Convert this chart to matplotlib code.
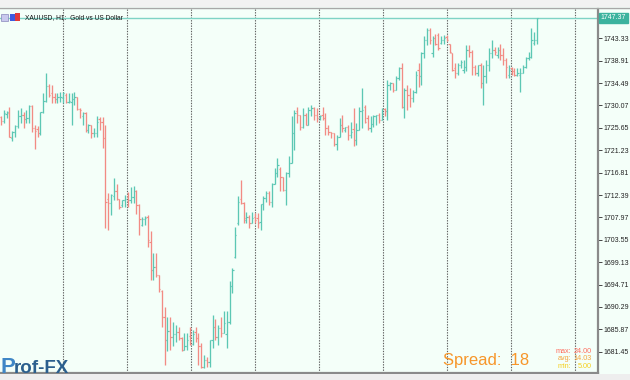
import matplotlib
matplotlib.use("Agg")
import matplotlib.pyplot as plt
from matplotlib.patches import Rectangle

# ---------------- data (XAUUSD H1 OHLC) ----------------
opens = [
 1727.7,1727.1,1728.4,1728.5,1723.6,1724.9,1726.1,1727.9,1728.2,1727.3,1727.5,1730.0,1725.6,1725.4,1724.7,1728.7,1731.0,1733.9,1732.5,1731.7,
 1731.3,1731.7,1731.5,1732.1,1730.8,1730.8,1731.3,1731.7,1729.3,1727.9,1728.5,1725.2,1726.2,1724.6,1724.7,1727.3,1726.9,1723.6,1711.7,1710.8,
 1712.1,1713.1,1711.6,1710.4,1711.4,1712.1,1711.4,1711.9,1713.2,1710.4,1706.5,1707.6,1708.0,
 1703.2,1697.6,1698.2,1696.5,1693.5,1688.4,1683.8,1685.5,1684.4,1685.0,1685.4,1684.1,1681.8,1682.5,1684.5,1683.0,1685.3,1684.2,1682.5,1678.5,
 1679.8,1679.5,1683.8,1686.4,1684.4,1686.1,1685.2,1685.0,1687.4,1694.5,1700.2,1706.8,1711.7,1710.8,1707.5,1708.0,1706.8,1708.0,1707.8,1707.0,
 1710.6,1711.8,1712.7,1711.1,1714.6,1716.8,1717.5,1716.0,1713.3,1716.7,1718.7,
 1724.6,1729.0,1728.2,1725.9,1728.2,1726.2,1729.2,1729.5,1728.2,1727.5,1728.2,1727.5,1725.6,1724.9,1724.6,1722.4,1723.9,1726.2,1725.2,1725.9,
 1724.3,1725.5,1723.3,1725.2,1728.9,1729.8,1727.5,1725.6,1726.5,1727.9,1728.2,1727.2,1729.3,1728.9,1734.1,1734.5,1733.1,1735.4,1737.4,1729.8,
 1733.1,1732.1,1731.5,1732.8,1737.0,1735.8,1740.4,1743.0,1745.0,1740.5,1743.3,1744.0,1742.5,
 1742.9,1743.5,1742.3,1740.5,1737.5,1736.4,1738.1,1737.0,1737.7,1741.0,1740.7,1737.7,1736.4,1738.1,1734.5,1735.8,1738.1,1740.4,1741.0,1740.0,
 1741.0,1740.0,1739.1,1736.1,1737.4,1736.8,1736.1,1736.0,1736.4,1737.7,1739.4,1739.7,1742.5,1743.0,
]
highs = [
 1728.0,1729.2,1729.0,1729.7,1725.1,1726.2,1729.2,1729.5,1728.7,1729.2,1730.2,1730.2,1726.2,1726.0,1728.8,1732.5,1736.4,1734.4,1734.1,1732.5,
 1732.5,1732.8,1732.8,1732.5,1732.5,1732.5,1732.8,1731.8,1729.5,1728.8,1728.7,1726.5,1726.2,1725.6,1728.0,1727.7,1727.7,1726.2,1712.7,1712.6,
 1715.7,1714.6,1711.7,1711.5,1712.4,1712.9,1714.0,1714.2,1713.4,1710.6,1708.1,1708.3,1708.5,
 1705.2,1700.9,1700.9,1696.6,1693.6,1690.3,1688.4,1688.4,1687.4,1686.7,1686.4,1684.4,1685.1,1685.1,1686.4,1685.7,1686.4,1685.1,1683.1,1680.8,
 1680.5,1683.8,1688.7,1688.0,1686.7,1688.4,1689.4,1689.4,1695.5,1697.9,1706.1,1712.1,1715.4,1711.1,1709.1,1708.4,1709.1,1708.8,1708.8,1710.7,
 1712.1,1713.1,1713.1,1714.7,1717.7,1719.6,1718.0,1716.0,1717.0,1720.0,1727.9,
 1729.2,1729.8,1728.2,1729.5,1728.5,1729.8,1730.2,1729.8,1729.5,1728.2,1729.8,1728.5,1726.2,1724.9,1724.6,1724.3,1727.5,1728.2,1725.9,1726.2,
 1726.9,1729.5,1726.6,1729.8,1733.5,1730.2,1728.2,1727.9,1728.2,1728.2,1728.5,1729.5,1729.5,1735.1,1734.8,1734.5,1735.8,1737.7,1738.4,1733.5,
 1734.1,1733.5,1733.1,1736.8,1738.4,1740.7,1743.7,1745.3,1745.3,1743.7,1744.2,1744.3,1743.7,
 1744.0,1744.0,1742.3,1740.5,1738.4,1738.4,1739.1,1739.1,1742.0,1742.0,1741.0,1738.1,1738.1,1738.4,1738.1,1739.1,1741.4,1743.0,1741.7,1741.7,
 1742.3,1741.4,1739.4,1738.1,1737.7,1737.4,1737.4,1737.4,1738.1,1739.7,1740.7,1745.3,1744.6,1747.4,
]
lows = [
 1726.2,1726.6,1727.5,1723.8,1723.1,1723.8,1725.6,1726.6,1725.6,1726.6,1726.6,1724.9,1721.4,1723.9,1724.2,1728.5,1730.8,1731.8,1730.5,1730.5,
 1730.5,1730.8,1730.5,1730.5,1730.5,1726.2,1730.2,1729.2,1727.5,1726.2,1724.9,1724.6,1723.6,1723.9,1723.8,1725.2,1721.6,1705.8,1705.5,1708.5,
 1711.4,1711.4,1709.6,1710.1,1710.1,1710.1,1710.8,1710.8,1708.7,1704.5,1706.2,1706.5,1702.2,
 1695.6,1695.6,1696.3,1693.3,1686.4,1678.8,1681.5,1681.8,1682.5,1683.4,1683.8,1681.5,1681.8,1681.8,1682.8,1682.8,1683.4,1678.8,1678.2,1678.2,
 1678.5,1678.5,1682.1,1683.8,1682.8,1684.4,1685.1,1682.1,1687.0,1693.0,1700.0,1706.5,1710.7,1706.8,1706.8,1705.8,1706.8,1706.8,1705.8,1705.5,
 1709.4,1711.1,1710.4,1710.1,1714.5,1716.0,1713.1,1713.1,1710.4,1716.0,1718.7,
 1721.3,1726.6,1725.2,1725.6,1726.2,1726.2,1727.9,1727.2,1726.9,1727.2,1727.2,1724.3,1724.3,1723.6,1722.0,1721.3,1723.9,1724.9,1724.9,1723.3,
 1723.6,1722.0,1722.3,1725.2,1725.6,1726.6,1725.2,1724.9,1725.9,1726.2,1726.6,1727.2,1727.9,1727.2,1733.1,1732.8,1733.1,1735.1,1729.5,1727.5,
 1729.2,1729.8,1730.8,1732.5,1733.8,1734.1,1739.4,1742.0,1742.3,1739.7,1742.0,1741.0,1742.3,
 1742.3,1742.7,1740.4,1736.8,1735.4,1736.1,1737.4,1736.4,1736.8,1739.7,1736.1,1736.1,1735.8,1733.5,1730.2,1734.5,1736.8,1739.4,1740.0,1739.4,
 1739.1,1738.1,1735.4,1735.4,1736.1,1735.8,1735.8,1732.8,1736.4,1737.4,1739.1,1739.4,1742.0,1742.3,
]
closes = [
 1727.1,1728.5,1728.7,1723.9,1724.9,1726.1,1727.9,1728.2,1727.3,1727.5,1730.0,1725.6,1725.1,1724.7,1728.7,1731.0,1733.9,1732.1,1731.7,1731.3,
 1731.7,1731.8,1732.5,1730.8,1731.0,1731.3,1731.7,1729.3,1729.2,1728.5,1725.2,1726.2,1724.6,1724.7,1726.9,1726.9,1723.6,1711.1,1710.8,1712.4,
 1713.1,1711.6,1710.1,1711.4,1711.7,1711.4,1711.9,1713.2,1710.4,1707.6,1707.6,1707.8,1703.5,
 1697.6,1698.2,1696.5,1693.8,1688.4,1683.8,1685.5,1684.4,1685.0,1685.4,1684.1,1681.8,1682.5,1683.8,1683.0,1685.0,1684.2,1682.5,1678.5,1679.8,
 1679.5,1683.8,1686.4,1684.4,1686.1,1685.2,1687.1,1687.4,1694.5,1697.6,1704.5,1711.0,1710.8,1707.8,1708.0,1706.8,1707.8,1707.5,1706.8,1710.6,
 1711.8,1712.7,1711.1,1714.6,1716.8,1718.3,1716.0,1713.3,1716.7,1718.7,1724.6,
 1728.5,1728.2,1725.9,1728.2,1726.2,1729.2,1729.5,1728.2,1727.5,1727.9,1727.5,1725.6,1724.9,1724.6,1722.4,1723.9,1726.2,1725.6,1725.9,1724.3,
 1724.9,1723.3,1725.2,1728.9,1729.2,1726.9,1725.6,1726.5,1727.9,1728.2,1727.2,1729.3,1728.9,1734.1,1734.5,1733.1,1735.4,1737.4,1729.8,1733.1,
 1732.1,1731.5,1732.8,1736.1,1735.8,1740.4,1743.0,1745.0,1743.0,1743.3,1742.3,1741.5,1742.9,
 1743.3,1743.0,1740.7,1737.1,1736.4,1738.1,1738.7,1737.7,1741.0,1740.7,1737.7,1736.4,1738.1,1734.5,1735.8,1738.1,1740.4,1741.0,1740.7,1741.0,
 1740.0,1739.1,1737.7,1737.0,1736.8,1736.1,1736.5,1736.4,1737.7,1739.4,1739.7,1743.0,1743.0,1747.37,
]
price_ticks = [1681.45, 1685.87, 1690.29, 1694.71, 1699.13, 1703.55, 1707.97, 1712.39,
               1716.81, 1721.23, 1725.65, 1730.07, 1734.49, 1738.91, 1743.33]
tick_labels = ["1681.45", "1685.87", "1690.29", "1694.71", "1699.13", "1703.55", "1707.97", "1712.39",
               "1716.81", "1721.23", "1725.65", "1730.07", "1734.49", "1738.91", "1743.33"]
current_price = 1747.37
symbol_title = "XAUUSD, H1:  Gold vs US Dollar"
spread_now = 18
spread_max, spread_avg, spread_min = 24.00, 14.03, 5.00

# ---------------- style ----------------
BG = "#f4fff9"
BULL = "#5cc7b4"
BEAR = "#f28b84"
W, H = 630, 380
PLOT_R = 598          # right edge of plot area (px)
PLOT_T, PLOT_B = 9, 372.5
FIRST_PX, LAST_PX = 1.0, 537.0

fig = plt.figure(figsize=(W / 100, H / 100), dpi=100, facecolor=BG)
ax = fig.add_axes([0, (H - PLOT_B) / H, PLOT_R / W, (PLOT_B - PLOT_T) / H])
ax.set_facecolor(BG)

n = len(closes)
step = (LAST_PX - FIRST_PX) / (n - 1)
x0 = -FIRST_PX / step
x1 = (PLOT_R - FIRST_PX) / step
ax.set_xlim(x0, x1)
ymax = 1743.33 + (38.3 - PLOT_T) / 5.065
ymin = 1743.33 - (PLOT_B - 38.3) / 5.065
ax.set_ylim(ymin, ymax)

def px_to_x(px):
    return x0 + px / PLOT_R * (x1 - x0)

# day separators (dotted vertical grid)
for k in range(9):
    ax.axvline(px_to_x(63 + 64 * k), color="#606060", lw=0.8,
               linestyle=(0, (1.2, 1.2)), zorder=1)

# OHLC bars
for i in range(n):
    o, h, l, c = opens[i], highs[i], lows[i], closes[i]
    h = max(h, o, c)
    l = min(l, o, c)
    col = BULL if c >= o else BEAR
    ax.vlines(i, l, h, color=col, lw=0.95, zorder=3)
    ax.hlines(o, i - 0.45, i, color=col, lw=0.85, zorder=3)
    ax.hlines(c, i, i + 0.45, color=col, lw=0.85, zorder=3)

# current price line
ax.axhline(current_price, color="#7ed3c5", lw=1.0, zorder=2)

# axes / ticks
for s in ("left", "top"):
    ax.spines[s].set_visible(False)
ax.spines["right"].set_color("#8a8a8a")
ax.spines["right"].set_linewidth(1.6)
ax.spines["bottom"].set_color("#8a8a8a")
ax.spines["bottom"].set_linewidth(1.6)
ax.set_xticks([])
ax.yaxis.tick_right()
ax.set_yticks(price_ticks)
ax.set_yticklabels(tick_labels, fontfamily="Liberation Sans", fontsize=5.0, color="#222222")
ax.tick_params(axis="y", length=3, width=0.7, color="#444444", pad=1)

# current price label on axis
ax.text(1.004, current_price, f"{current_price:.2f}", transform=ax.get_yaxis_transform(),
        ha="left", va="center", fontsize=5.0, family="Liberation Sans", color="white",
        bbox=dict(boxstyle="square,pad=0.25", fc="#3cb39e", ec="#3cb39e"), zorder=5,
        clip_on=False)

# top & bottom chrome
fig.patches.append(Rectangle((0, (H - 7) / H), 1, 7 / H, transform=fig.transFigure,
                             fc="#f2f2f2", ec="none", zorder=0))
fig.lines.append(plt.Line2D([0, 1], [(H - 8) / H] * 2, transform=fig.transFigure,
                            color="#a8a8a8", lw=1.0))
fig.patches.append(Rectangle((0, 0), 1, (H - 373.5) / H, transform=fig.transFigure,
                             fc="#eeeeee", ec="none", zorder=0))

# title + icons
fig.patches.append(Rectangle((1 / W, (H - 21) / H), 7 / W, 7 / H, transform=fig.transFigure,
                             fc="#c9c9ee", ec="#8888bb", lw=0.5))
fig.patches.append(Rectangle((10 / W, (H - 21) / H), 5 / W, 7 / H, transform=fig.transFigure,
                             fc="#3d5ce0", ec="none"))
fig.patches.append(Rectangle((15 / W, (H - 21) / H), 5 / W, 8 / H, transform=fig.transFigure,
                             fc="#e03a3a", ec="none"))
fig.text(25 / W, (H - 17.5) / H, symbol_title, fontsize=4.8, family="Liberation Sans",
         color="#111111", ha="left", va="center")

# spread info
fig.text(443 / W, (H - 365) / H, f"Spread:  {spread_now}", fontsize=12,
         family="Liberation Sans", color="#f7962a", ha="left", va="baseline")
rows = [("max:", spread_max, "#ff6b5c", 351.5), ("avg:", spread_avg, "#f5a640", 359.0),
        ("min:", spread_min, "#f5cf1a", 366.5)]
for lab, val, col, yy in rows:
    fig.text(571 / W, (H - yy) / H, lab, fontsize=5.2, family="Liberation Sans",
             color=col, ha="right", va="center")
    fig.text(592 / W, (H - yy) / H, f"{val:.2f}", fontsize=5.2, family="Liberation Sans",
             color=col, ha="right", va="center")

# logo
fig.text(0.5 / W, (H - 373) / H, "P", fontsize=16, fontweight="bold",
         family="Liberation Sans", color="#3f86c6", ha="left", va="baseline")
fig.text(14 / W, (H - 373) / H, "rof-FX", fontsize=13.5, fontweight="bold",
         family="Liberation Sans", color="#2b5f8e", ha="left", va="baseline")

fig.savefig("out.png", dpi=100, facecolor=BG)
